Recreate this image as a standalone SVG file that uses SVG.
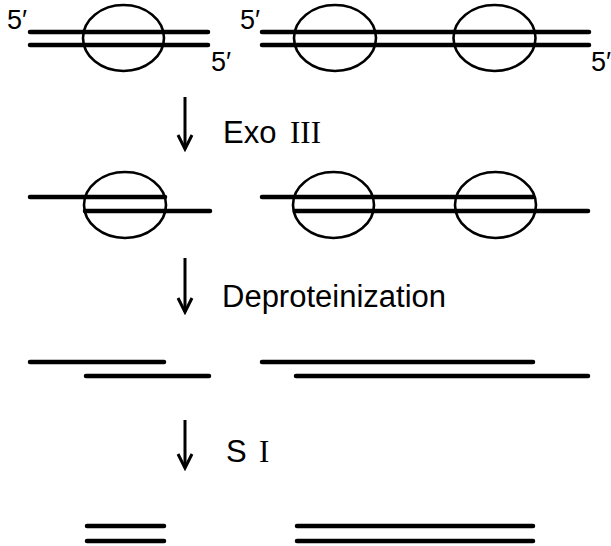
<svg xmlns="http://www.w3.org/2000/svg" width="611" height="546" viewBox="0 0 611 546">
<style>
.s{stroke:#000;stroke-width:4.5;stroke-linecap:round;fill:none}
.p{stroke:#000;stroke-width:2.6;fill:none}
.lb{font-family:"Liberation Sans",Arial,sans-serif;font-size:27px;fill:#000}
.st{font-family:"Liberation Sans",Arial,sans-serif;font-size:31px;fill:#000}
.rn{font-family:"Liberation Serif","Times New Roman",serif}
.ar{stroke:#000;stroke-width:3;fill:none;marker-end:url(#ah)}
</style>
<defs>
<marker id="ah" markerUnits="userSpaceOnUse" markerWidth="20" markerHeight="20" refX="17" refY="10" orient="auto" viewBox="0 0 20 20">
<path d="M3,3 L17,10 L3,17" stroke="#000" stroke-width="3" fill="none" stroke-linejoin="miter"/>
</marker>
</defs>
<rect width="611" height="546" fill="#fff"/>
<g id="mol1-start">
<line class="s" x1="30" y1="32" x2="208" y2="32"/>
<line class="s" x1="30" y1="45" x2="208" y2="45"/>
<ellipse class="p" cx="123.5" cy="38" rx="40.5" ry="33"/>
<text class="lb" x="7" y="29">5′</text>
<text class="lb" x="211" y="71">5′</text>
</g>
<g id="mol2-start">
<line class="s" x1="262" y1="32" x2="589" y2="32"/>
<line class="s" x1="262" y1="45" x2="589" y2="45"/>
<ellipse class="p" cx="335" cy="38" rx="41" ry="33"/>
<ellipse class="p" cx="494.5" cy="38" rx="41" ry="33"/>
<text class="lb" x="240" y="29">5′</text>
<text class="lb" x="591" y="71">5′</text>
</g>
<g id="mol1-exo">
<line class="s" x1="30" y1="197" x2="165" y2="197"/>
<line class="s" x1="85" y1="211" x2="210" y2="211"/>
<ellipse class="p" cx="125" cy="205" rx="41" ry="33"/>
</g>
<g id="mol2-exo">
<line class="s" x1="262" y1="197" x2="533" y2="197"/>
<line class="s" x1="295" y1="211" x2="588" y2="211"/>
<ellipse class="p" cx="333.5" cy="205" rx="40.5" ry="33"/>
<ellipse class="p" cx="495.5" cy="205" rx="40.5" ry="33"/>
</g>
<g id="mol1-deprot">
<line class="s" x1="30" y1="362" x2="164" y2="362"/>
<line class="s" x1="86" y1="376" x2="209" y2="376"/>
</g>
<g id="mol2-deprot">
<line class="s" x1="262" y1="362" x2="533" y2="362"/>
<line class="s" x1="296" y1="376" x2="588" y2="376"/>
</g>
<g id="mol1-s1">
<line class="s" x1="87" y1="526" x2="164" y2="526"/>
<line class="s" x1="87" y1="541" x2="164" y2="541"/>
</g>
<g id="mol2-s1">
<line class="s" x1="297" y1="526" x2="533" y2="526"/>
<line class="s" x1="297" y1="541" x2="533" y2="541"/>
</g>
<g id="connectors">
<line class="ar" x1="185" y1="97" x2="185" y2="149"/>
<line class="ar" x1="185" y1="258" x2="185" y2="312"/>
<line class="ar" x1="185" y1="420" x2="185" y2="468"/>
</g>
<g id="labels">
<text class="st" x="223" y="143">Exo<tspan class="rn" x="290">III</tspan></text>
<text class="st" x="222" y="307">Deproteinization</text>
<text class="st" x="226" y="462">S<tspan class="rn" x="259">I</tspan></text>
</g>
</svg>
